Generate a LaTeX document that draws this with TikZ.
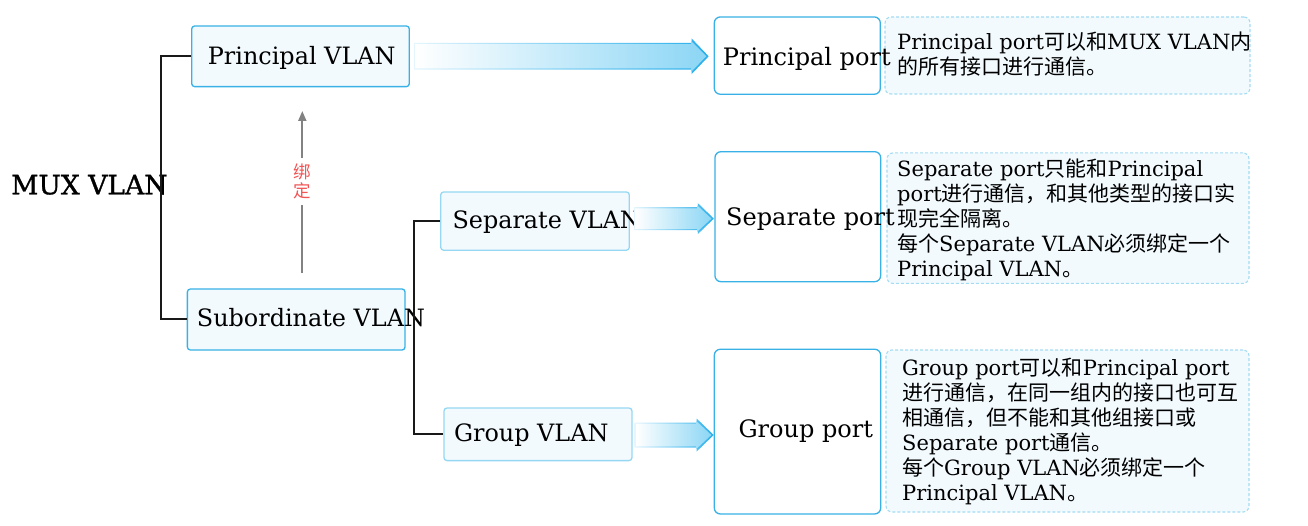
\documentclass[tikz,border=0pt]{standalone}
\usepackage{fontspec}
\setmainfont{DejaVu Serif}
\newfontfamily\cjk{Noto Sans CJK SC}
\newfontfamily\muxfont[FakeBold=1.2]{DejaVu Serif}
\usetikzlibrary{calc,arrows.meta}
\definecolor{bblue}{RGB}{56,178,230}
\definecolor{lblue}{RGB}{150,215,243}
\definecolor{dblue}{RGB}{165,220,243}
\definecolor{bfill}{RGB}{242,250,254}
\definecolor{aedgeA}{RGB}{228,245,253}
\definecolor{aedgeB}{RGB}{40,175,235}
\definecolor{amid}{RGB}{218,241,252}
\definecolor{afill}{RGB}{140,214,245}
\definecolor{bindred}{RGB}{240,85,85}
\definecolor{bindgray}{RGB}{130,130,130}
\newcommand\gradarrow[5]{%
  \coordinate (ga-t) at (#1 -| #2);
  \shade[left color=aedgeA, right color=aedgeB]
    ($(#1)+(0,-#3)$) -- ($(ga-t)+(-#5,-#3)$) -- ($(ga-t)+(-#5,-#4)$) -- (ga-t)
    -- ($(ga-t)+(-#5,#4)$) -- ($(ga-t)+(-#5,#3)$) -- ($(#1)+(0,#3)$) -- cycle;
  \shade[left color=white, middle color=amid, right color=afill]
    ($(#1)+(1.2,{-#3+1.2})$) -- ($(ga-t)+({-#5-0.6},{-#3+1.2})$) -- ($(ga-t)+({-#5-0.6},{-#4+2.3})$)
    -- ($(ga-t)+(-2.3,0)$) -- ($(ga-t)+({-#5-0.6},{#4-2.3})$) -- ($(ga-t)+({-#5-0.6},{#3-1.2})$)
    -- ($(#1)+(1.2,{#3-1.2})$) -- cycle;
}
\begin{document}
\begin{tikzpicture}[x=1pt,y=-1pt,
  vbox/.style={draw=bblue, fill=bfill, line width=1.3pt, rounded corners=3pt, inner sep=0pt},
  vboxl/.style={draw=lblue, fill=bfill, line width=1.3pt, rounded corners=3pt, inner sep=0pt},
  pbox/.style={draw=bblue, fill=white, line width=1.3pt, rounded corners=6pt, inner sep=0pt},
  dbox/.style={draw=dblue, fill=bfill, line width=1.1pt, dash pattern=on 3pt off 2pt, rounded corners=6pt, inner sep=0pt},
  lbl/.style={inner sep=0pt, anchor=base west, font=\fontsize{23.9}{29}\selectfont},
  plbl/.style={inner sep=0pt, anchor=base west, font=\fontsize{24}{29}\selectfont},
  dlbl/.style={inner sep=0pt, anchor=base west, align=left, font=\fontsize{21}{25}\selectfont},
  brk/.style={line width=2pt, black!90},
  garrow/.style={line width=2pt, bindgray, -{Triangle[length=10pt,width=8pt]}},
]
\useasboundingbox (0,0) rectangle (1308,526);

% VLAN boxes
\node[vbox, minimum width=217.6pt, minimum height=60.7pt] (pv) at (300.5,56.3) {};
\node[vbox, minimum width=217.7pt, minimum height=61pt] (sv) at (296.2,319.5) {};
\node[vboxl, minimum width=188.6pt, minimum height=58.3pt] (sep) at (535,221.1) {};
\node[vboxl, minimum width=188pt, minimum height=52.6pt] (grp) at (538,434.3) {};

% port boxes
\node[pbox, minimum width=166pt, minimum height=77.3pt] (pp) at (797.3,55.6) {};
\node[pbox, minimum width=165.7pt, minimum height=130pt] (sp) at (797.8,216.7) {};
\node[pbox, minimum width=166.4pt, minimum height=164.7pt] (gp) at (797.5,431.6) {};

% description boxes
\node[dbox, minimum width=365pt, minimum height=77pt] (d1) at (1067.5,55.5) {};
\node[dbox, minimum width=362pt, minimum height=130.5pt] (d2) at (1068,218.2) {};
\node[dbox, minimum width=363pt, minimum height=162pt] (d3) at (1067.5,431) {};

% texts
\node[inner sep=0pt, anchor=base west, font=\muxfont\fontsize{26.6}{31}\selectfont] (mux) at (11,194.3) {MUX VLAN};
\node[lbl] (pvt) at (207.7,64.3) {Principal VLAN};
\node[lbl] (svt) at (196.7,326.7) {Subordinate VLAN};
\node[lbl] (sept) at (452.3,228.3) {Separate VLAN};
\node[lbl] (grpt) at (453.8,441) {Group VLAN};
\node[plbl] (ppt) at (722.7,65.7) {Principal port};
\node[plbl] (spt) at (726,226) {Separate port};
\node[plbl] (gpt) at (738.3,437) {Group port};

\node[dlbl] (d1t) at (897,74.3) {Principal port{\cjk 可以和}MUX VLAN{\cjk 内}\\{\cjk 的所有接口进行通信。}};
\node[dlbl] (d2t) at (897,276.7) {Separate port{\cjk 只能和}Principal\\port{\cjk 进行通信，和其他类型的接口实}\\{\cjk 现完全隔离。}\\{\cjk 每个}Separate VLAN{\cjk 必须绑定一个}\\Principal VLAN{\cjk 。}};
\node[dlbl] (d3t) at (902,500) {Group port{\cjk 可以和}Principal port\\{\cjk 进行通信，在同一组内的接口也可互}\\{\cjk 相通信，但不能和其他组接口或}\\Separate port{\cjk 通信。}\\{\cjk 每个}Group VLAN{\cjk 必须绑定一个}\\Principal VLAN{\cjk 。}};

% brackets
\coordinate (j1) at (161,188);
\coordinate (j2) at (413.7,330);
\draw[brk] (pv.west) -| (j1) |- (sv.west);
\draw[brk] (sep.west) -| (j2) |- (grp.west);

% binding arrow
\coordinate (bs) at (302.3,273.5);
\coordinate (be) at (302.3,111);
\draw[garrow] (bs) -- node[pos=0.566, fill=white, inner sep=0pt, minimum height=47pt, align=center, text=bindred, font=\cjk\fontsize{17.5}{18.5}\selectfont] (bind) {绑\\定} (be);

% gradient arrows
\coordinate (a1s) at ($(pv.east)+(4,0)$);
\coordinate (a1e) at ($(pp.west)+(-5,0)$);
\gradarrow{a1s}{a1e}{13.3}{17.8}{17}
\coordinate (a2s) at ($(sep.east)+(4,-2.5)$);
\coordinate (a2e) at ($(sp.west)+(-0.5,0)$);
\gradarrow{a2s}{a2e}{11.5}{15.5}{16}
\coordinate (a3s) at ($(grp.east)+(2,0.7)$);
\coordinate (a3e) at ($(gp.west)+(0,0)$);
\gradarrow{a3s}{a3e}{12.5}{16.5}{17}
\end{tikzpicture}
\end{document}
